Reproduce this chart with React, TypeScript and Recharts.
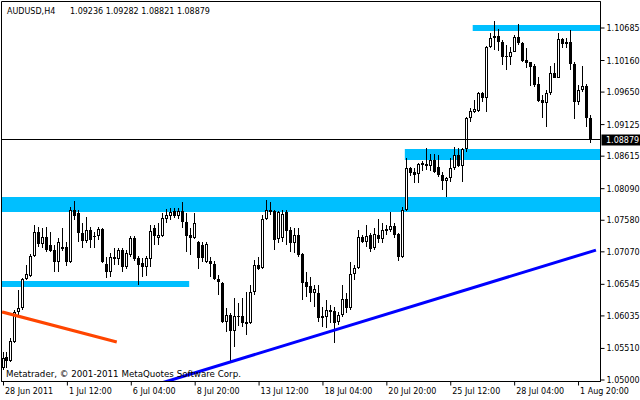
import React from "react";
import {
  Bar,
  ComposedChart,
  ReferenceArea,
  ReferenceLine,
  XAxis,
  YAxis,
} from "recharts";

// AUDUSD H4 candles
const open = [
  1.0519, 1.0537, 1.0531, 1.0562, 1.061, 1.0616, 1.0663, 1.0668, 1.07, 1.0739,
  1.072, 1.0731, 1.0718, 1.071, 1.0691, 1.0712, 1.0714, 1.0691, 1.0775, 1.077,
  1.0737, 1.0724, 1.0742, 1.0733, 1.0732, 1.0744, 1.0687, 1.0674, 1.0695, 1.0695,
  1.071, 1.0682, 1.0702, 1.0729, 1.0697, 1.0689, 1.0682, 1.0695, 1.0745, 1.0729,
  1.0733, 1.076, 1.0765, 1.0773, 1.0765, 1.0773, 1.0755, 1.0734, 1.0729, 1.0723,
  1.0718, 1.0691, 1.0692, 1.0687, 1.0663, 1.0657, 1.0594, 1.0605, 1.0579, 1.0601,
  1.0603, 1.059, 1.0592, 1.0642, 1.0686, 1.0681, 1.076, 1.0775, 1.0773, 1.0728,
  1.0729, 1.0771, 1.0742, 1.0721, 1.0734, 1.0703, 1.0658, 1.0652, 1.0641, 1.0641,
  1.06, 1.0602, 1.0613, 1.0611, 1.0594, 1.0605, 1.0631, 1.0616, 1.0671, 1.0681,
  1.0731, 1.0723, 1.0734, 1.0713, 1.0734, 1.0728, 1.0741, 1.0742, 1.0749, 1.0736,
  1.0699, 1.0775, 1.0842, 1.0836, 1.0833, 1.0848, 1.0849, 1.0846, 1.0855, 1.0844,
  1.0831, 1.0821, 1.0826, 1.0842, 1.0863, 1.0846, 1.0873, 1.0923, 1.0933, 1.0934,
  1.0964, 1.0955, 1.1038, 1.1052, 1.1056, 1.1046, 1.1022, 1.1022, 1.103, 1.1054,
  1.1044, 1.1017, 1.1014, 1.1007, 1.0978, 1.0952, 1.0947, 1.0964, 1.0996, 1.0988,
  1.1051, 1.1043, 1.1046, 1.101, 1.0949, 1.0968, 1.0975, 1.09236,
];
const high = [
  1.0545, 1.0545, 1.0568, 1.0613, 1.0645, 1.0665, 1.0686, 1.0703, 1.075, 1.0747,
  1.0745, 1.0747, 1.0739, 1.0718, 1.0729, 1.0745, 1.0723, 1.0779, 1.0789, 1.0775,
  1.0754, 1.0763, 1.0747, 1.0739, 1.0747, 1.0745, 1.0699, 1.0705, 1.0713, 1.0713,
  1.0713, 1.071, 1.0733, 1.0733, 1.07, 1.0697, 1.07, 1.075, 1.075, 1.0754,
  1.077, 1.0776, 1.0778, 1.0778, 1.0778, 1.0787, 1.077, 1.0745, 1.077, 1.0724,
  1.0723, 1.0723, 1.0699, 1.0692, 1.067, 1.0658, 1.0616, 1.0608, 1.0632, 1.0624,
  1.0632, 1.0642, 1.0653, 1.0694, 1.0699, 1.0766, 1.0791, 1.0787, 1.0775, 1.0773,
  1.0775, 1.0775, 1.0747, 1.0745, 1.0745, 1.0705, 1.0674, 1.0666, 1.0653, 1.0653,
  1.0618, 1.0629, 1.0621, 1.0618, 1.061, 1.0653, 1.0641, 1.0691, 1.0686, 1.0742,
  1.0734, 1.075, 1.0737, 1.0745, 1.076, 1.0754, 1.075, 1.0771, 1.0754, 1.0737,
  1.0779, 1.0859, 1.0844, 1.0842, 1.085, 1.0854, 1.0875, 1.0865, 1.0865, 1.0863,
  1.0836, 1.0828, 1.0859, 1.0876, 1.0875, 1.0875, 1.0924, 1.0939, 1.0952, 1.0965,
  1.0965, 1.1039, 1.106, 1.108, 1.1067, 1.1049, 1.1041, 1.1038, 1.1057, 1.1075,
  1.1046, 1.1036, 1.1014, 1.101, 1.0989, 1.096, 1.0968, 1.1007, 1.1012, 1.106,
  1.1052, 1.1052, 1.1065, 1.1014, 1.0976, 1.1007, 1.0978, 1.09282,
];
const low = [
  1.0516, 1.0519, 1.0529, 1.056, 1.0605, 1.0613, 1.0661, 1.0666, 1.0699, 1.0715,
  1.0713, 1.0707, 1.0706, 1.0674, 1.0674, 1.0709, 1.0684, 1.0689, 1.0758, 1.0723,
  1.0713, 1.0722, 1.0713, 1.0713, 1.0726, 1.0689, 1.0665, 1.0666, 1.0686, 1.0686,
  1.0674, 1.0679, 1.0699, 1.0693, 1.0653, 1.0666, 1.0668, 1.0682, 1.0718, 1.0718,
  1.0731, 1.0754, 1.0758, 1.0762, 1.076, 1.0745, 1.0707, 1.0702, 1.0728, 1.0679,
  1.0691, 1.0689, 1.0666, 1.0661, 1.0637, 1.0592, 1.0578, 1.0527, 1.0553, 1.0587,
  1.0586, 1.0573, 1.059, 1.0637, 1.0677, 1.0679, 1.0758, 1.0766, 1.071, 1.0721,
  1.0723, 1.0718, 1.0707, 1.0705, 1.0699, 1.0629, 1.0634, 1.0626, 1.0618, 1.0594,
  1.0586, 1.0584, 1.0592, 1.056, 1.0589, 1.0602, 1.0608, 1.0613, 1.0661, 1.068,
  1.0721, 1.0715, 1.0707, 1.071, 1.0721, 1.0721, 1.0734, 1.0739, 1.0729, 1.0692,
  1.0697, 1.0773, 1.0829, 1.0818, 1.0818, 1.0838, 1.0839, 1.0838, 1.0834, 1.0828,
  1.0807, 1.0796, 1.082, 1.0839, 1.0844, 1.082, 1.0868, 1.0917, 1.0932, 1.0933,
  1.0949, 1.0933, 1.1036, 1.1033, 1.1031, 1.1009, 1.1001, 1.1009, 1.1029, 1.1041,
  1.1014, 1.1004, 1.0975, 1.0973, 1.0949, 1.0923, 1.0909, 1.096, 1.0987, 1.0987,
  1.1036, 1.1036, 1.1001, 1.0922, 1.0944, 1.0965, 1.0909, 1.08821,
];
const close = [
  1.0536, 1.0531, 1.0563, 1.061, 1.0616, 1.0663, 1.0671, 1.07, 1.0739, 1.072,
  1.0731, 1.071, 1.0708, 1.0691, 1.0723, 1.0715, 1.0691, 1.0775, 1.0765, 1.0737,
  1.0724, 1.0742, 1.0726, 1.0731, 1.0744, 1.0691, 1.0674, 1.0699, 1.0699, 1.071,
  1.0682, 1.0705, 1.0729, 1.0695, 1.0686, 1.0682, 1.0697, 1.0741, 1.0733, 1.0734,
  1.0762, 1.0766, 1.0771, 1.0765, 1.0773, 1.0755, 1.0733, 1.0729, 1.0754, 1.0697,
  1.0697, 1.072, 1.0687, 1.0663, 1.0658, 1.0594, 1.0605, 1.0579, 1.0603, 1.0603,
  1.0592, 1.0594, 1.0642, 1.0686, 1.0679, 1.076, 1.0775, 1.0771, 1.0726, 1.0771,
  1.0768, 1.0741, 1.0721, 1.0734, 1.0702, 1.0657, 1.065, 1.0641, 1.0647, 1.06,
  1.0603, 1.0613, 1.061, 1.0592, 1.0605, 1.0631, 1.0616, 1.0671, 1.0681, 1.0731,
  1.0723, 1.0733, 1.0712, 1.0736, 1.0728, 1.0742, 1.0744, 1.0749, 1.0734, 1.0699,
  1.0775, 1.0842, 1.0834, 1.0831, 1.0849, 1.085, 1.0846, 1.0855, 1.0836, 1.0831,
  1.0821, 1.0826, 1.0842, 1.0863, 1.0846, 1.0873, 1.0923, 1.0934, 1.0938, 1.0964,
  1.0955, 1.1038, 1.1052, 1.1056, 1.1046, 1.1022, 1.1023, 1.103, 1.1054, 1.1044,
  1.1015, 1.1012, 1.1005, 1.0976, 1.0951, 1.0947, 1.0964, 1.0996, 1.0988, 1.1051,
  1.1043, 1.1046, 1.101, 1.0949, 1.0968, 1.0975, 1.0923, 1.08879,
];

// two empty slots on the right (chart shift)
const SLOTS = 150;

const tickIdx = [0, 16, 32, 48, 64, 80, 96, 112, 128, 144];
const tickLabels = [
  "28 Jun 2011",
  "1 Jul 12:00",
  "6 Jul 04:00",
  "8 Jul 20:00",
  "13 Jul 12:00",
  "18 Jul 04:00",
  "20 Jul 20:00",
  "25 Jul 12:00",
  "28 Jul 04:00",
  "1 Aug 20:00",
];
const yTicks = [
  1.05, 1.0551, 1.06035, 1.06545, 1.0707, 1.0758, 1.0809, 1.08615, 1.09125,
  1.0965, 1.1016, 1.10685,
];

const Y_MIN = 1.049758;
const Y_MAX = 1.11113;

// support / resistance rectangles
const zones = [
  { x1: 118, x2: 149, y1: 1.10636, y2: 1.10733 },
  { x1: 101, x2: 149, y1: 1.08553, y2: 1.08731 },
  { x1: 0, x2: 149, y1: 1.07713, y2: 1.07955 },
  { x1: 0, x2: 46, y1: 1.06502, y2: 1.06599 },
];

const redTrend = [
  { x: 0, y: 1.06093 },
  { x: 28, y: 1.05619 },
];
const blueTrend = [
  { x: 40, y: 1.0496 },
  { x: 148, y: 1.07091 },
];

const data = Array.from({ length: SLOTS }, (_, i) =>
  i < open.length
    ? { i, open: open[i], high: high[i], low: low[i], close: close[i] }
    : { i }
);

const FONT = "'DejaVu Sans', Tahoma, sans-serif";

function Candle(props: any) {
  const { x, y, width, height, index } = props;
  const d = props.payload && props.payload.open != null ? props.payload : data[index];
  if (!d || d.open == null) return null;
  const top = Math.min(y, y + height);
  const bot = Math.max(y, y + height);
  const span = d.high - d.low;
  const px = (p: number) => (span > 0 ? top + ((d.high - p) / span) * (bot - top) : top);
  const cx = Math.floor(x + width / 2) + 0.5;
  const yo = Math.round(px(d.open));
  const yc = Math.round(px(d.close));
  const bTop = Math.min(yo, yc);
  const bBot = Math.max(yo, yc);
  const up = d.close >= d.open;
  let body;
  if (bBot - bTop < 2) {
    body = (
      <line x1={cx - 1.5} x2={cx + 1.5} y1={bTop + 0.5} y2={bTop + 0.5} stroke="#000" />
    );
  } else if (up) {
    body = (
      <rect x={cx - 1} y={bTop + 0.5} width={2} height={bBot - bTop - 1} fill="#fff" stroke="#000" />
    );
  } else {
    body = <rect x={cx - 1.5} y={bTop} width={3} height={bBot - bTop} fill="#000" />;
  }
  return (
    <g>
      <line x1={cx} x2={cx} y1={Math.round(top)} y2={Math.round(bot)} stroke="#000" />
      {body}
    </g>
  );
}

function XTick(props: any) {
  const { x, y, payload } = props;
  const k = tickIdx.indexOf(payload.value);
  return (
    <text x={x + 1.5} y={y + 6} fontSize={8} fontFamily={FONT} fill="#000" textAnchor="start">
      {k >= 0 ? tickLabels[k] : ""}
    </text>
  );
}

function YTick(props: any) {
  const { x, y, payload } = props;
  return (
    <text x={x} y={y + 3} fontSize={8} fontFamily={FONT} fill="#000" textAnchor="start">
      {Number(payload.value).toFixed(5)}
    </text>
  );
}

function PriceTag(props: any) {
  const vb = props.viewBox || {};
  const bx = vb.x + vb.width + 1;
  const by = vb.y;
  return (
    <g>
      <rect x={bx} y={Math.round(by) - 5.5} width={39} height={11} fill="#000" />
      <text x={bx + 4.5} y={by + 3} fontSize={8} fontFamily={FONT} fill="#fff">
        {close[close.length - 1].toFixed(5)}
      </text>
    </g>
  );
}

export default function App() {
  const last = open.length - 1;
  const header = [open[last], high[last], low[last], close[last]]
    .map((v) => v.toFixed(5))
    .join(" ");

  return (
    <div
      style={{
        position: "absolute",
        left: 0,
        top: 0,
        width: 640,
        height: 400,
        background: "#fff",
        overflow: "hidden",
      }}
    >
      <ComposedChart
        width={640}
        height={400}
        data={data}
        margin={{ top: 1.5, right: 0, bottom: 0, left: 1.5 }}
        barCategoryGap={0}
      >
        <XAxis
          dataKey="i"
          type="category"
          height={18.5}
          ticks={tickIdx}
          interval={0}
          tickSize={4}
          tickMargin={2}
          axisLine={{ stroke: "#000" }}
          tickLine={{ stroke: "#000" }}
          tick={<XTick />}
        />
        <YAxis
          orientation="right"
          type="number"
          width={39.5}
          domain={[Y_MIN, Y_MAX]}
          allowDataOverflow
          ticks={yTicks}
          interval={0}
          tickSize={4}
          tickMargin={2}
          axisLine={{ stroke: "#000" }}
          tickLine={{ stroke: "#000" }}
          tick={<YTick />}
        />
        {zones.map((z, k) => (
          <ReferenceArea
            key={k}
            x1={z.x1}
            x2={z.x2}
            y1={z.y1}
            y2={z.y2}
            fill="#00BFFF"
            fillOpacity={1}
            stroke="none"
          />
        ))}
        <ReferenceArea
          x1={0}
          x2={SLOTS - 1}
          y1={Y_MIN}
          y2={Y_MAX}
          fill="none"
          stroke="#000"
        />
        <ReferenceLine
          segment={redTrend}
          stroke="#FF4500"
          strokeWidth={3}
          strokeLinecap="square"
          ifOverflow="hidden"
        />
        <ReferenceLine
          segment={blueTrend}
          stroke="#0000FF"
          strokeWidth={3}
          strokeLinecap="square"
          ifOverflow="hidden"
        />
        <Bar
          dataKey={(d: any) => (d.low == null ? null : [d.low, d.high])}
          barSize={3}
          shape={Candle}
          isAnimationActive={false}
        />
        <ReferenceLine
          y={close[last]}
          stroke="#000"
          shapeRendering="crispEdges"
          label={<PriceTag />}
        />
      </ComposedChart>
      <svg
        width={640}
        height={400}
        style={{ position: "absolute", left: 0, top: 0, pointerEvents: "none" }}
      >
        <text x={7} y={14} fontSize={8} fontFamily={FONT} fill="#000">
          AUDUSD,H4
        </text>
        <text x={70} y={14} fontSize={8} fontFamily={FONT} fill="#000">
          {header}
        </text>
        <text x={6} y={377} fontSize={8.7} fontFamily={FONT} fill="#000">
          Metatrader, © 2001-2011 MetaQuotes Software Corp.
        </text>
      </svg>
    </div>
  );
}
